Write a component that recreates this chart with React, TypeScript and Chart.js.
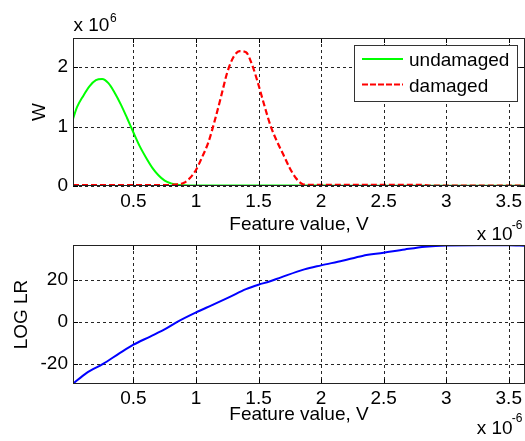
import React, { useEffect, useRef } from "react";
import { Chart, registerables } from "chart.js";

Chart.register(...registerables);

// ---------- data (x in units of 1e-6 V, W in units of 1e6) ----------
const featureV = [
  0.017, 0.05, 0.1, 0.15, 0.2, 0.25, 0.3, 0.35, 0.4, 0.45, 0.5, 0.55, 0.6, 0.65, 0.7, 0.75, 0.8, 0.85,
  0.9, 0.95, 1.0, 1.05, 1.1, 1.15, 1.2, 1.25, 1.3, 1.35, 1.4, 1.45, 1.5, 1.55, 1.6, 1.65, 1.7, 1.75,
  1.8, 1.85, 1.9, 1.95, 2.0, 2.1, 2.2, 2.4, 2.6, 2.8, 2.9, 3.0, 3.2, 3.4, 3.63,
];
const undamagedW = [
  1.13, 1.33, 1.52, 1.68, 1.78, 1.8, 1.73, 1.57, 1.37, 1.14, 0.9, 0.67, 0.48, 0.31, 0.18, 0.09, 0.045, 0.02,
  0.012, 0.01, 0.01, 0.01, 0.01, 0.01, 0.01, 0.01, 0.01, 0.01, 0.01, 0.01, 0.01, 0.01, 0.01, 0.01, 0.01, 0.01,
  0.01, 0.01, 0.01, 0.01, 0.01, 0.006, 0.005, 0.005, 0.005, 0.005, 0.005, 0.005, 0.005, 0.005, 0.005,
];
const damagedW = [
  0.015, 0.015, 0.015, 0.015, 0.015, 0.015, 0.015, 0.015, 0.015, 0.015, 0.015, 0.015, 0.015, 0.015, 0.015, 0.015, 0.018, 0.03,
  0.05, 0.13, 0.27, 0.49, 0.74, 1.1, 1.5, 1.91, 2.17, 2.27, 2.25, 2.03, 1.7, 1.33, 0.99, 0.74, 0.52, 0.3,
  0.13, 0.035, 0.02, 0.02, 0.02, 0.02, 0.02, 0.02, 0.02, 0.02, 0.005, 0.005, 0.005, 0.005, 0.005,
];
const lrV = [
  0.017, 0.124, 0.257, 0.39, 0.5, 0.634, 0.767, 0.847, 1.0, 1.133, 1.267, 1.4, 1.5, 1.587, 1.68, 1.866,
  2.0, 2.17, 2.33, 2.5, 2.67, 2.83, 3.0, 3.25, 3.5, 3.63,
];
const logLR = [
  -29.4, -24.3, -19.9, -14.8, -10.8, -6.9, -2.9, 0.0, 4.6, 8.2, 11.9, 15.7, 17.8, 19.3, 21.3, 25.1,
  27.0, 29.2, 31.5, 33.0, 34.6, 35.9, 36.5, 36.6, 36.6, 36.4,
];

const xTicks = [0.5, 1, 1.5, 2, 2.5, 3, 3.5];
const wTicks = [0, 1, 2];
const lrTicks = [-20, 0, 20];
const seriesNames = ["undamaged", "damaged"];
const xTitle = "Feature value, V";

const FAMILY = '"Liberation Sans", Arial, Helvetica, sans-serif';
const FONT = { family: FAMILY, size: 19 };

function px(v: number) {
  return Math.round(v) + 0.5;
}

function makeFramePlugin(kind: "top" | "bottom") {
  return {
    id: "frame_" + kind,
    beforeDatasetsDraw(chart: any) {
      const { ctx, chartArea: a, scales } = chart;
      ctx.save();
      ctx.strokeStyle = "rgba(0,0,0,0.85)";
      ctx.lineWidth = 1;
      ctx.setLineDash([3, 3]);
      for (const t of scales.x.ticks) {
        const x = px(scales.x.getPixelForValue(t.value));
        ctx.beginPath();
        ctx.moveTo(x, a.top);
        ctx.lineTo(x, a.bottom);
        ctx.stroke();
      }
      for (const t of scales.y.ticks) {
        const y = px(scales.y.getPixelForValue(t.value));
        ctx.beginPath();
        ctx.moveTo(a.left, y);
        ctx.lineTo(a.right, y);
        ctx.stroke();
      }
      ctx.restore();
    },
    afterDatasetsDraw(chart: any) {
      const { ctx, chartArea: a, scales } = chart;
      ctx.save();
      ctx.setLineDash([]);
      ctx.strokeStyle = "#000";
      ctx.lineWidth = 1;
      // tick marks
      const tl = 5;
      for (const t of scales.x.ticks) {
        const x = px(scales.x.getPixelForValue(t.value));
        ctx.beginPath();
        ctx.moveTo(x, a.bottom);
        ctx.lineTo(x, a.bottom - tl);
        ctx.moveTo(x, a.top);
        ctx.lineTo(x, a.top + tl);
        ctx.stroke();
      }
      for (const t of scales.y.ticks) {
        const y = px(scales.y.getPixelForValue(t.value));
        ctx.beginPath();
        ctx.moveTo(a.left, y);
        ctx.lineTo(a.left + tl, y);
        ctx.moveTo(a.right, y);
        ctx.lineTo(a.right - tl, y);
        ctx.stroke();
      }
      // frame
      const l = px(a.left);
      const r = px(a.right - 1);
      const t = px(a.top);
      const b = px(a.bottom - 1);
      ctx.strokeStyle = "#222";
      ctx.strokeRect(l, t, r - l, b - t);

      // exponent labels
      ctx.fillStyle = "#000";
      ctx.textBaseline = "alphabetic";
      ctx.textAlign = "left";
      const big = `19px ${FAMILY}`;
      const small = `12px ${FAMILY}`;
      if (kind === "top") {
        ctx.font = big;
        ctx.fillText("x 10", 73.5, 30.7);
        ctx.font = small;
        ctx.fillText("6", 110, 21.7);
        ctx.font = big;
        ctx.fillText("x 10", 476.7, 240);
        ctx.font = small;
        ctx.fillText("-6", 511.7, 228.5);

        // legend
        const lx = 354.5;
        const ly = 45.5;
        const lw = 163;
        const lh = 56;
        ctx.fillStyle = "#fff";
        ctx.fillRect(lx, ly, lw, lh);
        ctx.strokeStyle = "#333";
        ctx.lineWidth = 1;
        ctx.strokeRect(lx, ly, lw, lh);
        ctx.lineWidth = 2;
        ctx.strokeStyle = "#00ff00";
        ctx.beginPath();
        ctx.moveTo(362, 59);
        ctx.lineTo(403, 59);
        ctx.stroke();
        ctx.strokeStyle = "#ff0000";
        ctx.setLineDash([6, 2]);
        ctx.beginPath();
        ctx.moveTo(362, 84.5);
        ctx.lineTo(403, 84.5);
        ctx.stroke();
        ctx.setLineDash([]);
        ctx.fillStyle = "#000";
        ctx.font = big;
        ctx.fillText(seriesNames[0], 409, 66);
        ctx.fillText(seriesNames[1], 409, 91.7);
      } else {
        ctx.font = big;
        ctx.fillText("x 10", 476.7, 190.3);
        ctx.font = small;
        ctx.fillText("-6", 511.7, 177.7);
      }
      ctx.restore();
    },
  };
}

function fixedTicks(values: number[]) {
  return (s: any) => {
    s.ticks = values.map((v) => ({ value: v }));
  };
}

function xScale(height: number, titlePadBottom: number, tickPad: number) {
  return {
    type: "linear",
    min: 0.017,
    max: 3.63,
    afterBuildTicks: fixedTicks(xTicks),
    afterFit: (s: any) => {
      s.height = height;
      s.paddingLeft = 0;
      s.paddingRight = 0;
    },
    ticks: { padding: tickPad, font: FONT, color: "#000", callback: (v: any) => String(v), maxRotation: 0, autoSkip: false },
    grid: { display: false, drawTicks: false },
    border: { display: false },
    title: { display: true, text: xTitle, font: FONT, color: "#000", padding: { top: 0, bottom: titlePadBottom } },
  };
}

function yScale(min: number, max: number, ticks: number[], title: string, titlePadTop: number) {
  return {
    type: "linear",
    min,
    max,
    afterBuildTicks: fixedTicks(ticks),
    afterFit: (s: any) => {
      s.width = 73;
      s.paddingTop = 0;
      s.paddingBottom = 0;
    },
    ticks: { padding: 5, font: FONT, color: "#000", callback: (v: any) => String(v), autoSkip: false },
    grid: { display: false, drawTicks: false },
    border: { display: false },
    title: { display: true, text: title, font: FONT, color: "#000", padding: { top: titlePadTop, bottom: 0 } },
  };
}

export default function App() {
  const topRef = useRef<HTMLCanvasElement>(null);
  const botRef = useRef<HTMLCanvasElement>(null);

  useEffect(() => {
    const top = new Chart(topRef.current as HTMLCanvasElement, {
      type: "line",
      data: {
        datasets: [
          {
            label: seriesNames[0],
            data: featureV.map((x, i) => ({ x, y: undamagedW[i] })),
            borderColor: "#00ff00",
            borderWidth: 2,
            pointRadius: 0,
            cubicInterpolationMode: "monotone",
            order: 1,
          },
          {
            label: seriesNames[1],
            data: featureV.map((x, i) => ({ x, y: damagedW[i] })),
            borderColor: "#ff0000",
            borderWidth: 2.2,
            borderDash: [6, 3],
            pointRadius: 0,
            cubicInterpolationMode: "monotone",
            order: 0,
          },
        ],
      },
      options: {
        animation: false,
        responsive: false,
        maintainAspectRatio: false,
        devicePixelRatio: 1,
        layout: { padding: { top: 38, left: 0, right: 0, bottom: 0 } },
        plugins: { legend: { display: false }, tooltip: { enabled: false } },
        scales: {
          x: xScale(58, 8, 4),
          y: yScale(0, 2.49, wTicks, "W", 28),
        },
      } as any,
      plugins: [makeFramePlugin("top")],
    } as any);

    const bot = new Chart(botRef.current as HTMLCanvasElement, {
      type: "line",
      data: {
        datasets: [
          {
            label: "LOG LR",
            data: lrV.map((x, i) => ({ x, y: logLR[i] })),
            borderColor: "#0000ff",
            borderWidth: 2,
            pointRadius: 0,
            cubicInterpolationMode: "monotone",
          },
        ],
      },
      options: {
        animation: false,
        responsive: false,
        maintainAspectRatio: false,
        devicePixelRatio: 1,
        layout: { padding: { top: 1, left: 0, right: 0, bottom: 0 } },
        plugins: { legend: { display: false }, tooltip: { enabled: false } },
        scales: {
          x: xScale(57, 14.5, 3.5),
          y: yScale(-29.5, 36.7, lrTicks, "LOG LR", 10.8),
        },
      } as any,
      plugins: [makeFramePlugin("bottom")],
    } as any);

    return () => {
      top.destroy();
      bot.destroy();
    };
  }, []);

  return (
    <div style={{ position: "absolute", left: 0, top: 0, width: 525, height: 441, overflow: "hidden", background: "#fff" }}>
      <canvas ref={topRef} width={525} height={244} style={{ position: "absolute", left: 0, top: 0, width: 525, height: 244 }} />
      <canvas ref={botRef} width={525} height={197} style={{ position: "absolute", left: 0, top: 244, width: 525, height: 197 }} />
    </div>
  );
}
